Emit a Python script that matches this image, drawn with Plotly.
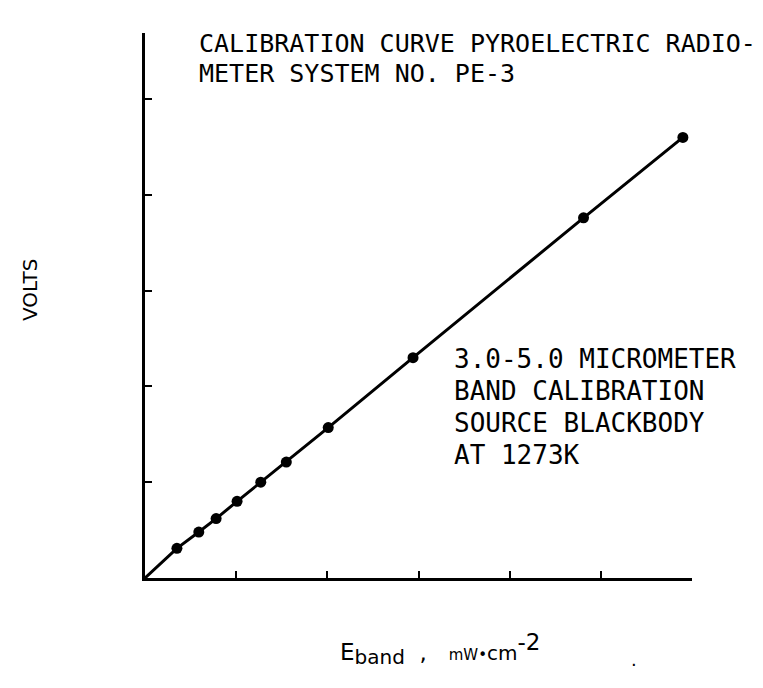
import plotly.graph_objects as go

# Data (E_band in tick units, volts in tick units)
e_band = [0.35, 0.59, 0.78, 1.01, 1.27, 1.55, 2.01, 2.94, 4.81, 5.90]
volts = [0.31, 0.48, 0.62, 0.80, 1.00, 1.21, 1.57, 2.30, 3.76, 4.60]
line_x = [0.0] + e_band
line_y = [0.0] + volts

x_ticks = [1, 2, 3, 4, 5, 6]
y_ticks = [1, 2, 3, 4, 5]

title_lines = ["CALIBRATION CURVE PYROELECTRIC RADIO-", "METER SYSTEM NO. PE-3"]
note_lines = ["3.0-5.0 MICROMETER", "BAND CALIBRATION", "SOURCE BLACKBODY", "AT 1273K"]

W, H = 763, 688
OFF = 8  # page body margin
L, R, T, B = 137, 79, 25, 118
pw, ph = W - L - R, H - T - B


def px(x):
    return (x - OFF - L) / pw


def py(y):
    return (H - B - (y - OFF)) / ph


fig = go.Figure()
fig.add_trace(go.Scatter(x=line_x, y=line_y, mode="lines",
                         line=dict(color="black", width=3), hoverinfo="skip"))
fig.add_trace(go.Scatter(x=e_band, y=volts, mode="markers",
                         marker=dict(color="black", size=11)))

mono = "DejaVu Sans Mono"
ann = []
for i, t in enumerate(title_lines):
    ann.append(dict(text=t, x=px(198), y=py(44 + 29 * i), xref="paper", yref="paper",
                    xanchor="left", yanchor="middle", showarrow=False, borderpad=0,
                    font=dict(family=mono, size=25, color="black")))
for i, t in enumerate(note_lines):
    ann.append(dict(text=t, x=px(453), y=py(359 + 32 * i), xref="paper", yref="paper",
                    xanchor="left", yanchor="middle", showarrow=False, borderpad=0,
                    font=dict(family=mono, size=26, color="black")))
ann.append(dict(text="VOLTS", x=px(30), y=py(290), xref="paper", yref="paper",
                xanchor="center", yanchor="middle",
                textangle=-90, showarrow=False,
                font=dict(family="DejaVu Sans", size=20, color="black")))
NB = "\u00a0"
xtitle = ("E<sub><span style='font-size:20px'>band</span></sub>" + NB * 2 + "," + NB * 3 +
          "<span style='font-size:15px'>mW•</span><span style='font-size:20px'>cm</span>"
          "<sup><span style='font-size:23px'>-2</span></sup>")
ann.append(dict(text=xtitle, x=px(338), y=py(649), xref="paper", yref="paper",
                xanchor="left", yanchor="middle",
                showarrow=False, font=dict(family="DejaVu Sans", size=23, color="black")))
ann.append(dict(text=".", x=px(634), y=py(659), xref="paper", yref="paper",
                xanchor="center", yanchor="middle",
                showarrow=False, font=dict(family="DejaVu Sans", size=18, color="black")))

fig.update_layout(
    width=W, height=H, margin=dict(l=L, r=R, t=T, b=B),
    paper_bgcolor="white", plot_bgcolor="white", showlegend=False,
    annotations=ann,
    xaxis=dict(range=[0, 6], tickvals=x_ticks, showticklabels=False, ticks="inside",
               ticklen=7, tickwidth=2, tickcolor="black", showline=True, linecolor="black",
               linewidth=3, showgrid=False, zeroline=False, fixedrange=True),
    yaxis=dict(range=[0, 5.69], tickvals=y_ticks, showticklabels=False, ticks="inside",
               ticklen=7, tickwidth=2, tickcolor="black", showline=True, linecolor="black",
               linewidth=3, showgrid=False, zeroline=False, fixedrange=True),
)
fig.write_html("out.html")
